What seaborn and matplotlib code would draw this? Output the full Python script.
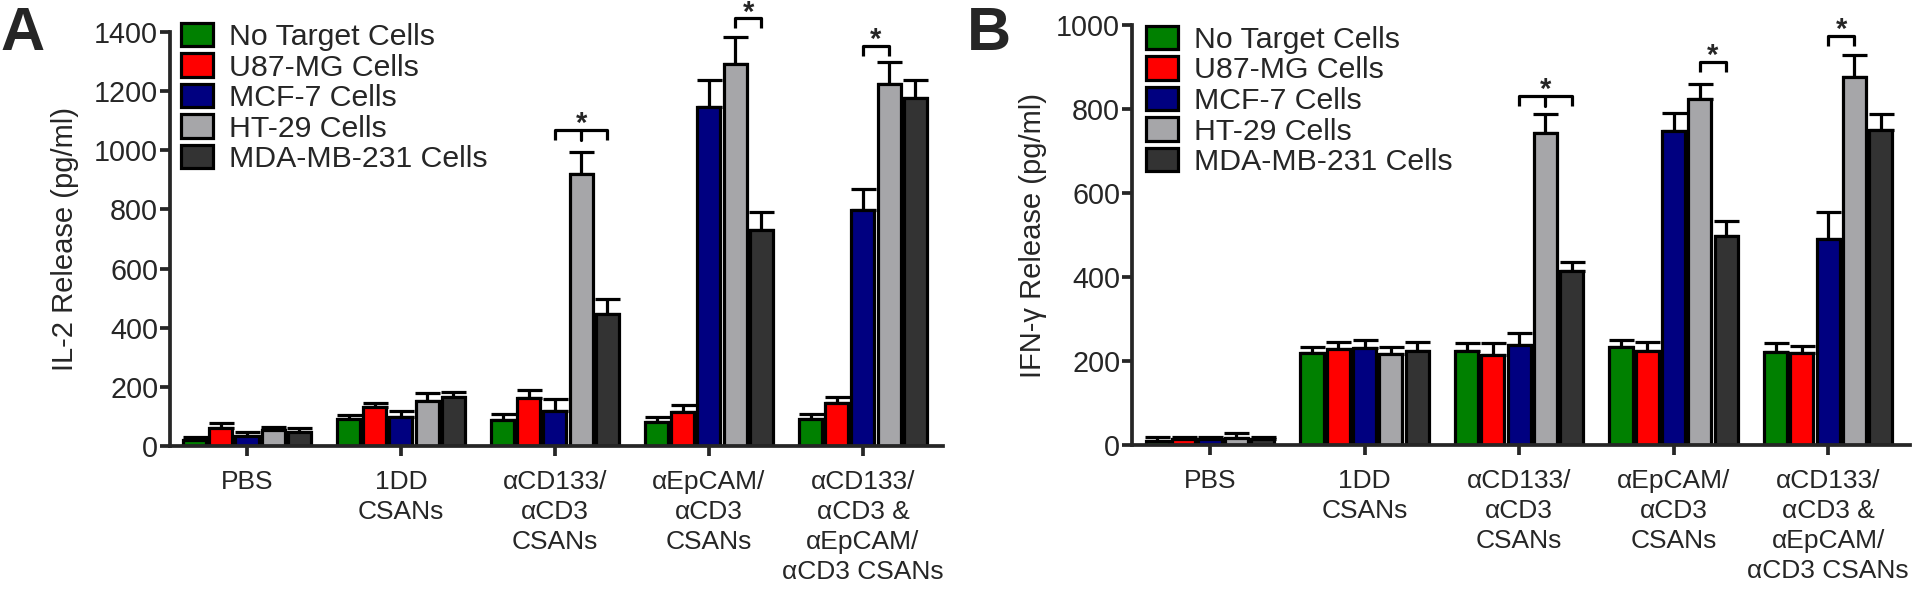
import numpy as np
import pandas as pd
import matplotlib
matplotlib.use("Agg")
import matplotlib.pyplot as plt
from matplotlib.patches import Patch
import seaborn as sns

# ---------------- data ----------------
treatments = ["PBS", "1DD\nCSANs", "αCD133/\nαCD3\nCSANs", "αEpCAM/\nαCD3\nCSANs",
              "αCD133/\nαCD3 &\nαEpCAM/\nαCD3 CSANs"]
cells = ["No Target Cells", "U87-MG Cells", "MCF-7 Cells", "HT-29 Cells", "MDA-MB-231 Cells"]
colors = ["#008000", "#FF0000", "#000080", "#A6A6A9", "#333333"]

# IL-2 release (pg/ml), mean and SEM per treatment
il2_no_target = [20, 90, 88, 80, 90]
il2_no_target_err = [11, 15, 19, 19, 17]
il2_u87 = [60, 131, 161, 116, 144]
il2_u87_err = [19, 15, 28, 23, 21]
il2_mcf7 = [35, 99, 118, 1147, 798]
il2_mcf7_err = [13, 19, 40, 91, 71]
il2_ht29 = [54, 152, 919, 1292, 1223]
il2_ht29_err = [9, 28, 74, 90, 77]
il2_mda = [48, 165, 446, 730, 1176]
il2_mda_err = [13, 18, 51, 60, 62]

# IFN-gamma release (pg/ml)
ifn_no_target = [10, 218, 224, 234, 222]
ifn_no_target_err = [10, 16, 19, 16, 22]
ifn_u87 = [14, 228, 214, 225, 218]
ifn_u87_err = [6, 18, 28, 21, 18]
ifn_mcf7 = [14, 230, 238, 748, 490]
ifn_mcf7_err = [6, 20, 28, 43, 65]
ifn_ht29 = [16, 216, 744, 824, 877]
ifn_ht29_err = [12, 18, 44, 35, 52]
ifn_mda = [14, 225, 414, 498, 750]
ifn_mda_err = [6, 21, 21, 36, 37]

# significance brackets: (treatment index, first cell, last cell, middle cell or None, bracket level)
il2_brackets = [(2, 2, 4, 3, 1068), (3, 3, 4, None, 1446), (4, 2, 3, None, 1354)]
ifn_brackets = [(2, 2, 4, 3, 832), (3, 3, 4, None, 913), (4, 2, 3, None, 974)]

# ---------------- style ----------------
sns.set_style("ticks")
plt.rcParams["font.family"] = ["Liberation Sans", "DejaVu Sans"]
LW = 2.3


def long_df(means):
    rows = []
    for c, vals in zip(cells, means):
        for t, v in zip(treatments, vals):
            rows.append({"treatment": t, "cell": c, "value": v})
    return pd.DataFrame(rows)


def panel(ax, means, errs, brackets, ymax, ystep, ylabel, xlim, leg):
    df = long_df(means)
    sns.barplot(data=df, x="treatment", y="value", hue="cell", order=treatments,
                hue_order=cells, palette=colors, width=0.85, gap=0.12,
                errorbar=None, edgecolor="black", linewidth=LW, ax=ax,
                legend=False, saturation=1)
    centers = []
    for cont, err in zip(ax.containers, errs):
        xs = np.array([p.get_x() + p.get_width() / 2 for p in cont])
        ys = np.array([p.get_height() for p in cont])
        centers.append(xs)
        ax.errorbar(xs, ys, yerr=[np.zeros(len(err)), err], fmt="none",
                    ecolor="black", elinewidth=LW, capsize=9, capthick=LW,
                    zorder=0.5, clip_on=False)
    leg_len = ymax * 0.024
    for (t, c0, c1, cm, yb) in brackets:
        x0, x1 = centers[c0][t], centers[c1][t]
        ax.plot([x0, x0, x1, x1], [yb - leg_len, yb, yb, yb - leg_len],
                color="black", lw=LW, clip_on=False, solid_capstyle="butt")
        if cm is not None:
            xm = centers[cm][t]
            ax.plot([xm, xm], [yb, yb - leg_len], color="black", lw=LW,
                    clip_on=False)
        ax.annotate("*", xy=((x0 + x1) / 2, yb), xytext=(0, -1.5),
                    textcoords="offset points", ha="center", va="baseline",
                    fontsize=21, fontweight="bold", annotation_clip=False)

    ax.set_ylim(0, ymax)
    ax.set_yticks(np.arange(0, ymax + 1, ystep))
    ax.set_xlim(*xlim)
    ax.set_xlabel("")
    ax.set_ylabel(ylabel, fontsize=21)
    ax.yaxis.set_label_coords(leg[2], 0.5)
    sns.despine(ax=ax)
    for s in ["left", "bottom"]:
        ax.spines[s].set_linewidth(LW + 0.4)
    ax.tick_params(axis="y", length=7, width=LW + 0.4, labelsize=20.7, pad=1.5)
    ax.tick_params(axis="x", length=7, width=LW + 0.4, pad=10)
    for lab in ax.get_xticklabels():
        lab.set_fontsize(19)
        lab.set_linespacing(1.33)
    handles = [Patch(facecolor=col, edgecolor="black", linewidth=LW) for col in colors]
    ax.legend(handles, cells, loc="upper left", bbox_to_anchor=(leg[0], leg[1]),
              frameon=False, fontsize=21.8, handlelength=1.05, handleheight=0.8,
              handletextpad=0.55, labelspacing=0.08, borderpad=0, borderaxespad=0)


fig = plt.figure(figsize=(19.14, 5.9), dpi=100)
axA = fig.add_axes([0.08882, 0.24407, 0.40387, 0.70169])
axB = fig.add_axes([0.59143, 0.24576, 0.40648, 0.71186])

panel(axA,
      [il2_no_target, il2_u87, il2_mcf7, il2_ht29, il2_mda],
      [il2_no_target_err, il2_u87_err, il2_mcf7_err, il2_ht29_err, il2_mda_err],
      il2_brackets, 1400, 200, "IL-2 Release (pg/ml)", (-0.5, 4.52),
      (0.014, 1.022, -0.118))
panel(axB,
      [ifn_no_target, ifn_u87, ifn_mcf7, ifn_ht29, ifn_mda],
      [ifn_no_target_err, ifn_u87_err, ifn_mcf7_err, ifn_ht29_err, ifn_mda_err],
      ifn_brackets, 1000, 200, "IFN-γ Release (pg/ml)", (-0.505, 4.53),
      (0.018, 0.998, -0.109))

fig.text(0.0, 1 - 6 / 590, "A", fontsize=44, fontweight="bold", ha="left", va="top")
fig.text(967 / 1914, 1 - 6 / 590, "B", fontsize=44, fontweight="bold", ha="left", va="top")

fig.savefig("out.png", dpi=100)
